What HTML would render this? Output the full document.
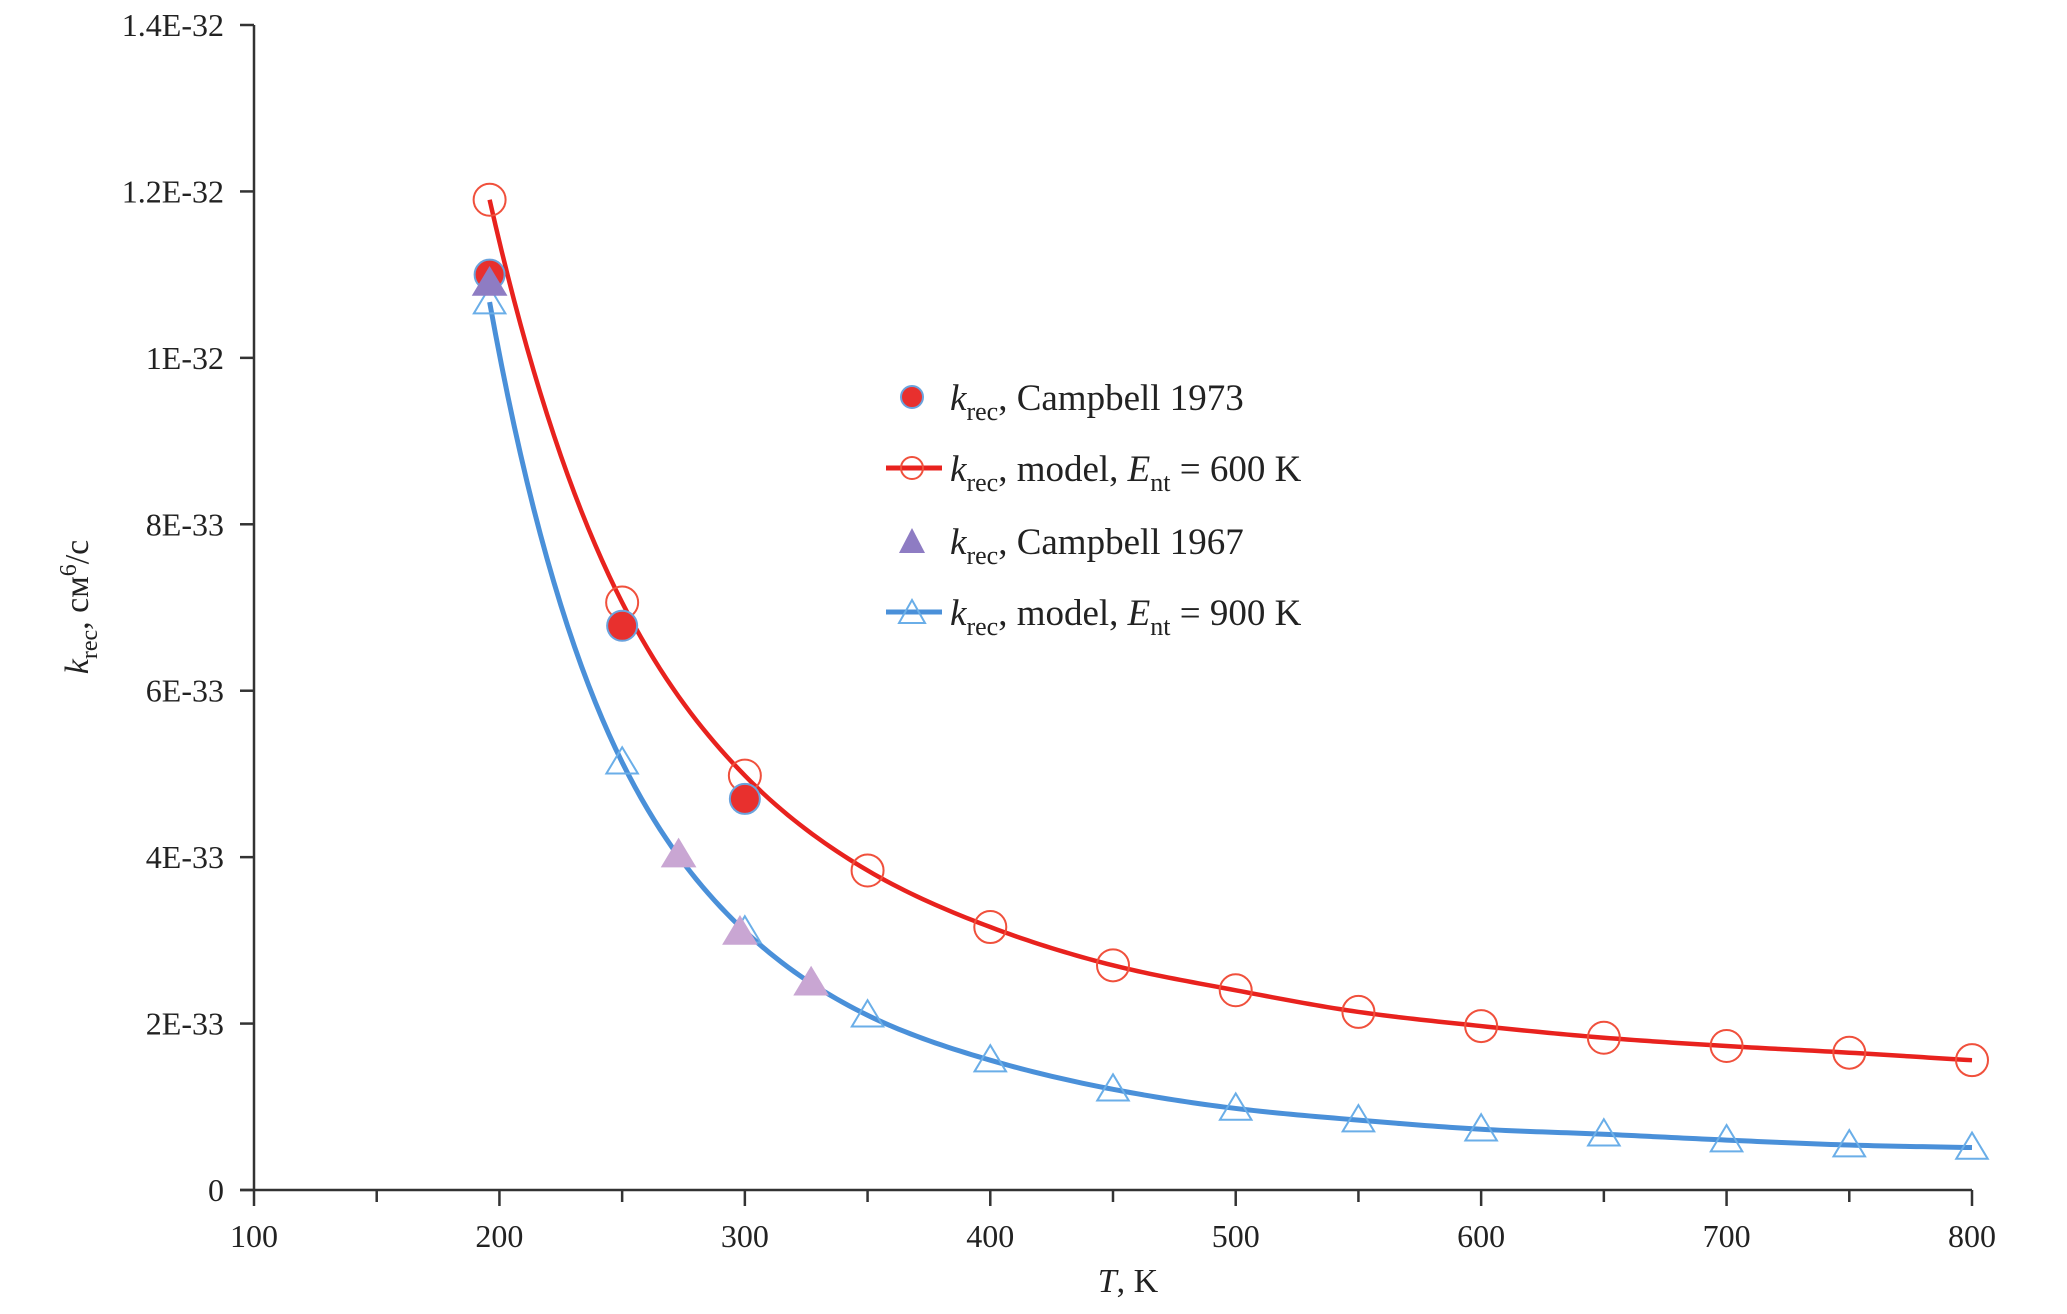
<!DOCTYPE html>
<html><head><meta charset="utf-8">
<style>
html,body{margin:0;padding:0;background:#fff;}
svg{display:block;font-family:"Liberation Serif",serif;}
</style></head>
<body>
<svg id="chart" width="2067" height="1314" viewBox="0 0 2067 1314" xmlns="http://www.w3.org/2000/svg">
<g id="axes"></g>
<g id="series"></g>
<g id="legend" font-size="37" fill="#222">
  <circle cx="912" cy="397" r="11" fill="#e8302e" stroke="#6aa3dd" stroke-width="2"/>
  <text x="950" y="410"><tspan font-style="italic">k</tspan><tspan font-size="26" dy="10">rec</tspan><tspan dy="-10">, Campbell 1973</tspan></text>
  <line x1="886" y1="468" x2="942" y2="468" stroke="#e8221e" stroke-width="5"/>
  <circle cx="912" cy="468" r="11" fill="none" stroke="#f0503c" stroke-width="2"/>
  <text x="950" y="481"><tspan font-style="italic">k</tspan><tspan font-size="26" dy="10">rec</tspan><tspan dy="-10">, model, </tspan><tspan font-style="italic">E</tspan><tspan font-size="26" dy="10">nt</tspan><tspan dy="-10"> = 600 K</tspan></text>
  <polygon points="912,528 925,553 899,553" fill="#8e7cc3"/>
  <text x="950" y="554"><tspan font-style="italic">k</tspan><tspan font-size="26" dy="10">rec</tspan><tspan dy="-10">, Campbell 1967</tspan></text>
  <line x1="886" y1="612" x2="942" y2="612" stroke="#4a90d9" stroke-width="5"/>
  <polygon points="912,600 925,623 899,623" fill="none" stroke="#6aaee8" stroke-width="2"/>
  <text x="950" y="625"><tspan font-style="italic">k</tspan><tspan font-size="26" dy="10">rec</tspan><tspan dy="-10">, model, </tspan><tspan font-style="italic">E</tspan><tspan font-size="26" dy="10">nt</tspan><tspan dy="-10"> = 900 K</tspan></text>
</g>
<text x="1128" y="1292" font-size="34" text-anchor="middle" fill="#222"><tspan font-style="italic">T</tspan>, K</text>
<text transform="translate(88,607) rotate(-90)" font-size="34" text-anchor="middle" fill="#222"><tspan font-style="italic">k</tspan><tspan font-size="24" dy="9">rec</tspan><tspan dy="-9">, см</tspan><tspan font-size="24" dy="-12">6</tspan><tspan dy="12">/с</tspan></text>
</svg>
<script>
const xTicks = [100,200,300,400,500,600,700,800];
const yTicks = [0,2e-33,4e-33,6e-33,8e-33,1e-32,1.2e-32,1.4e-32];
const yTickLabels = ["0","2E-33","4E-33","6E-33","8E-33","1E-32","1.2E-32","1.4E-32"];
const modelT = [196,250,300,350,400,450,500,550,600,650,700,750,800];
const model600 = [1.19e-32,7.06e-33,4.98e-33,3.84e-33,3.16e-33,2.70e-33,2.40e-33,2.14e-33,1.97e-33,1.83e-33,1.73e-33,1.65e-33,1.56e-33];
const model900 = [1.067e-32,5.14e-33,3.11e-33,2.10e-33,1.56e-33,1.21e-33,0.98e-33,0.84e-33,0.73e-33,0.67e-33,0.60e-33,0.54e-33,0.51e-33];
const camp1973T = [196,250,300];
const camp1973 = [1.10e-32,6.78e-33,4.70e-33];
const camp1967T = [196,273,298,327];
const camp1967 = [1.09e-32,4.03e-33,3.10e-33,2.49e-33];

const X0=254, X1=1972, Y0=1190, Y1=25;
function xs(t){return X0+(t-100)/700*(X1-X0);}
function ys(v){return Y0-v/1.4e-32*(Y0-Y1);}
const NS="http://www.w3.org/2000/svg";
function mk(tag,attrs,parent){const e=document.createElementNS(NS,tag);for(const k in attrs)e.setAttribute(k,attrs[k]);parent.appendChild(e);return e;}
const axes=document.getElementById('axes'), ser=document.getElementById('series');

let e=mk('line',{x1:X0,y1:Y1,x2:X0,y2:Y0,stroke:'#333','stroke-width':2.5},axes);


e=mk('line',{x1:X0-14,y1:Y0,x2:X1,y2:Y0,stroke:'#333','stroke-width':2.5},axes);


yTicks.forEach((v,i)=>{
  const y=ys(v);
  let t=mk('line',{x1:X0-14,y1:y,x2:X0,y2:y,stroke:'#333','stroke-width':2.5},axes);
  
  
  let l=mk('text',{x:X0-30,y:y+11,'font-size':32,'text-anchor':'end',fill:'#222',textLength:0},axes);
  l.removeAttribute('textLength');
  l.textContent=yTickLabels[i];
  
  
});
for(let t=100;t<=800;t+=50){
  const x=xs(t), major=t%100===0;
  let tk=mk('line',{x1:x,y1:Y0,x2:x,y2:Y0+(major?16:12),stroke:'#333','stroke-width':2.5},axes);
  
  
}
xTicks.forEach(t=>{
  let l=mk('text',{x:xs(t),y:Y0+57,'font-size':32,'text-anchor':'middle',fill:'#222'},axes);
  l.textContent=String(t);
  
  
});

// Catmull-Rom in log(T), log(v) space, sampled densely
function smoothPath(ts,vs){
  const lx=ts.map(Math.log), ly=vs.map(Math.log);
  const n=lx.length; let d='';
  for(let i=0;i<n-1;i++){
    const p0=i>0?i-1:i, p3=i+2<n?i+2:i+1;
    const m1x=(lx[i+1]-lx[p0])/(p0===i?1:2), m1y=(ly[i+1]-ly[p0])/(p0===i?1:2);
    const m2x=(lx[p3]-lx[i])/(p3===i+1?1:2), m2y=(ly[p3]-ly[i])/(p3===i+1?1:2);
    for(let s=(i===0?0:1);s<=20;s++){
      const u=s/20,u2=u*u,u3=u2*u;
      const h00=2*u3-3*u2+1,h10=u3-2*u2+u,h01=-2*u3+3*u2,h11=u3-u2;
      const X=h00*lx[i]+h10*m1x+h01*lx[i+1]+h11*m2x;
      const Y=h00*ly[i]+h10*m1y+h01*ly[i+1]+h11*m2y;
      const px=xs(Math.exp(X)), py=ys(Math.exp(Y));
      d+=(d?' L':'M')+px.toFixed(2)+','+py.toFixed(2);
    }
  }
  return d;
}
let p=mk('path',{d:smoothPath(modelT,model900),fill:'none',stroke:'#4a90d9','stroke-width':5,'stroke-linejoin':'round'},ser);


p=mk('path',{d:smoothPath(modelT,model600),fill:'none',stroke:'#e8221e','stroke-width':4.5,'stroke-linejoin':'round'},ser);



function tri(cx,cy,s){return `${cx},${cy-s} ${cx+s*1.05},${cy+s*0.75} ${cx-s*1.05},${cy+s*0.75}`;}
modelT.forEach((t,i)=>{
  let m=mk('polygon',{points:tri(xs(t),ys(model900[i]),15),fill:'none',stroke:'#6aaee8','stroke-width':2},ser);
  
  
});
modelT.forEach((t,i)=>{
  let m=mk('circle',{cx:xs(t),cy:ys(model600[i]),r:16,fill:'none',stroke:'#f0503c','stroke-width':2},ser);
  
  
});
camp1973T.forEach((t,i)=>{
  let m=mk('circle',{cx:xs(t),cy:ys(camp1973[i]),r:15,fill:'#e8302e',stroke:'#6aa3dd','stroke-width':2},ser);
  
  
});
camp1967T.forEach((t,i)=>{
  let m=mk('polygon',{points:tri(xs(t),ys(camp1967[i]),17),fill:i===0?'#8e7cc3':'#c9a6d3'},ser);
  
  
});
</script>
</body></html>
